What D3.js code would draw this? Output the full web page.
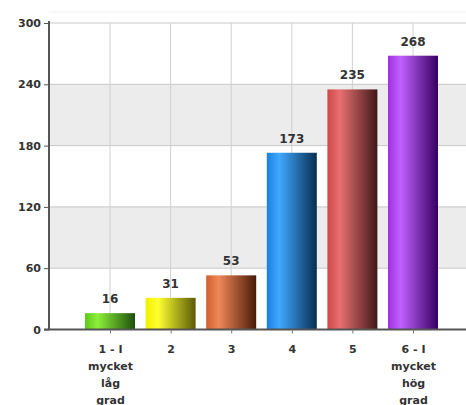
<!DOCTYPE html>
<html><head><meta charset="utf-8">
<script src="https://cdn.jsdelivr.net/npm/d3@7"></script>
<style>body{margin:0;background:#fff;}svg{display:block;}</style>
</head><body>
<svg id="c" width="466" height="405"></svg>
<script>
const categories = ["1 - I|mycket|låg|grad","2","3","4","5","6 - I|mycket|hög|grad"];
const values = [16,31,53,173,235,268];
const yTicks = [0,60,120,180,240,300];
const barColors = [
  ["#5ec81a","#8cf03a","#1d4f0c"],
  ["#f0f000","#ffff30","#5a5a08"],
  ["#d06030","#f08858","#4a1a08"],
  ["#1a80e0","#40a8ff","#082e50"],
  ["#d04848","#e87070","#401818"],
  ["#a030e0","#c060ff","#380060"]
];

const FONT = "'DejaVu Sans', Verdana, sans-serif";
const svg = d3.select("#c");
const L = 49, R = 474, T = 23, B = 329.5;
const y = d3.scaleLinear().domain([0,300]).range([B,T]);
const x = d3.scalePoint().domain(categories).range([110,413]);
const bw = 50;

const defs = svg.append("defs");
barColors.forEach((c,i)=>{
  const g = defs.append("linearGradient").attr("id","g"+i).attr("x1","0").attr("x2","1").attr("y1","0").attr("y2","0");
  g.append("stop").attr("offset","0%").attr("stop-color",c[0]);
  g.append("stop").attr("offset","25%").attr("stop-color",c[1]);
  g.append("stop").attr("offset","100%").attr("stop-color",c[2]);
});

// bands
for (let i=0;i<yTicks.length-1;i++){
  if (i%2===1) {
    svg.append("rect").attr("x",L).attr("width",R-L)
      .attr("y",y(yTicks[i+1])).attr("height",y(yTicks[i])-y(yTicks[i+1]))
      .attr("fill","#ececec");
  }
}
// horizontal grid
svg.append("g").selectAll("line").data(yTicks.slice(1)).join("line")
  .attr("x1",L).attr("x2",R).attr("y1",d=>y(d)).attr("y2",d=>y(d))
  .attr("stroke","#c8c8c8").attr("stroke-width",1);
// vertical grid
svg.append("g").selectAll("line").data(categories).join("line")
  .attr("x1",d=>x(d)).attr("x2",d=>x(d)).attr("y1",T).attr("y2",B)
  .attr("stroke","#d0d0d0").attr("stroke-width",1);
// faint top border
svg.append("line").attr("x1",L).attr("x2",R).attr("y1",12).attr("y2",12).attr("stroke","#f0f0f0");

// bars
svg.append("g").selectAll("rect").data(values).join("rect")
  .attr("x",(d,i)=>x(categories[i])-bw/2).attr("width",bw)
  .attr("y",d=>y(d)).attr("height",d=>B-y(d))
  .attr("fill",(d,i)=>`url(#g${i})`);

// value labels
svg.append("g").selectAll("text").data(values).join("text")
  .attr("x",(d,i)=>x(categories[i])).attr("y",d=>y(d)-10)
  .attr("text-anchor","middle")
  .attr("font-family",FONT).attr("font-weight","bold")
  .attr("font-size","12px").attr("fill","#333")
  .text(d=>d);

// y axis
const ya = svg.append("g").attr("transform",`translate(${L},0)`)
  .call(d3.axisLeft(y).tickValues(yTicks).tickSize(5).tickPadding(3));
ya.select(".domain").attr("stroke","#555").attr("stroke-width",2).attr("d",`M0,${T-2}V${B}`);
ya.selectAll(".tick line").attr("stroke","#555");
ya.selectAll("text").attr("font-family",FONT)
  .attr("font-weight","bold").attr("font-size","11px").attr("fill","#333");

// x axis
const xa = svg.append("g").attr("transform",`translate(0,${B})`)
  .call(d3.axisBottom(x).tickSize(4).tickFormat(""));
xa.select(".domain").attr("stroke","#555").attr("stroke-width",2).attr("d",`M${L-5},0H${R}`);
xa.selectAll(".tick line").attr("stroke","#777");
xa.selectAll(".tick").each(function(d){
  const lines = d.split("|");
  const t = d3.select(this).append("text").attr("fill","#333")
    .attr("font-family",FONT).attr("font-weight","bold")
    .attr("font-size","11px").attr("text-anchor","middle");
  lines.forEach((s,k)=>t.append("tspan").attr("x",0).attr("y",23+k*17).text(s));
});
</script>
</body></html>
